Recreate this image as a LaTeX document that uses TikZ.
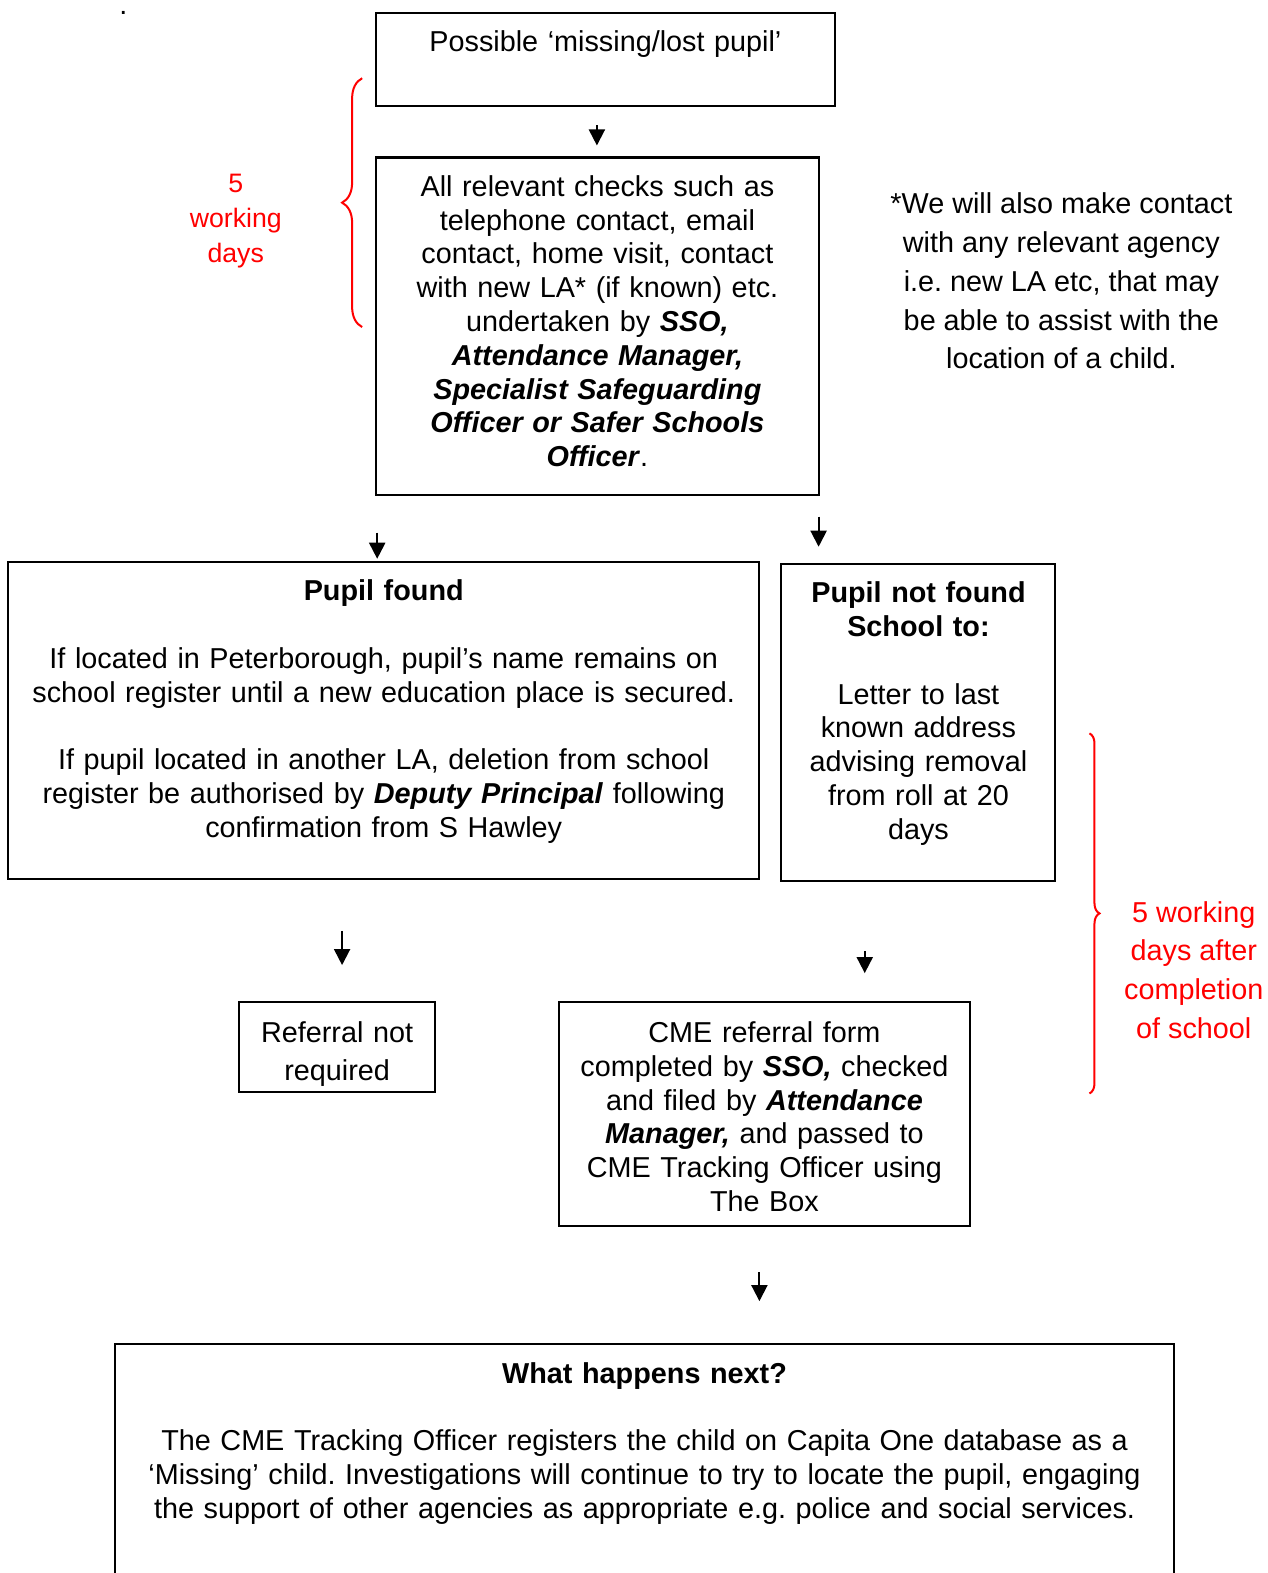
\documentclass[tikz,border=0pt]{standalone}
\usepackage{fontspec}
\setmainfont{Liberation Sans}
\frenchspacing
\usetikzlibrary{arrows.meta,positioning,decorations.pathreplacing}
\tikzset{block/.style={rectangle, draw, line width=1pt, inner sep=0pt}}
\tikzset{inside/.style={text width=#1, align=center, inner sep=0pt, font=\fontsize{14.35}{16.85}\selectfont}}
\tikzset{note/.style={align=center, inner sep=0pt, font=\fontsize{14.35}{19.35}\selectfont}}
\tikzset{redtext/.style={text=red, align=center, inner sep=0pt}}
\tikzset{redbrace/.style={draw=red, line width=1pt, decorate, decoration={brace, amplitude=#1, aspect=0.5}}}
\tikzset{line/.style={draw, line width=1pt, -{Triangle[width=8pt,length=8pt]}}}

\begin{document}
\begin{tikzpicture}[x=0.5pt,y=-0.5pt]
        \useasboundingbox (0,0) rectangle (1263,1568);
        \node[anchor=base, inner sep=0pt, font=\fontsize{14.35}{16.85}\selectfont] (dot) at (123,14) {.};

        % boxes
        \node[block, minimum width=228.5pt, minimum height=46.5pt] (lost) at (603.5,59.5) {};
        \node[block, minimum width=220.5pt, minimum height=168pt] (checks) at (595.5,325) {};
        \node[block, minimum width=374.5pt, minimum height=158pt] (found) at (382.5,718) {};
        \node[block, minimum width=136.5pt, minimum height=158pt] (notfound) at (915.5,720) {};
        \node[block, minimum width=98pt, minimum height=45pt] (referral) at (336,1044) {};
        \node[block, minimum width=205pt, minimum height=111.5pt] (cme) at (762,1110.5) {};
        \node[block, minimum width=527.5pt, minimum height=230pt] (next) at (642.5,1570) {};

        % texts in the boxes
        \node[inside=228.5pt, below=9.25pt of lost.north] (lost_t) {Possible ‘missing/lost pupil’};
        \node[inside=220.5pt, below=9.25pt of checks.north] (checks_t) {All relevant checks such as\\
            telephone contact, email\\ contact, home visit, contact\\ with new LA* (if known) etc.\\
            undertaken by \textbf{\textit{SSO,}}\\ \textbf{\textit{Attendance Manager,}}\\
            \textbf{\textit{Specialist Safeguarding}}\\ \textbf{\textit{Officer or Safer Schools}}\\
            \textbf{\textit{Officer}}.};
        \node[inside=374.5pt, below=9.25pt of found.north] (found_t) {\textbf{Pupil found}\\[16.85pt]
            If located in Peterborough, pupil’s name remains on\\
            school register until a new education place is secured.\\[16.85pt]
            If pupil located in another LA, deletion from school\\
            register be authorised by \textbf{\textit{Deputy Principal}} following\\
            confirmation from S Hawley};
        \node[inside=136.5pt, below=9.25pt of notfound.north] (notfound_t) {\textbf{Pupil not found}\\
            \textbf{School to:}\\[16.85pt] Letter to last\\ known address\\ advising removal\\
            from roll at 20\\ days};
        \node[inside=98pt, font=\fontsize{14.35}{19}\selectfont, below=10pt of referral.north] (referral_t) {Referral not\\ required};
        \node[inside=205pt, below=10pt of cme.north] (cme_t) {CME referral form\\
            completed by \textbf{\textit{SSO,}} checked\\ and filed by \textbf{\textit{Attendance}}\\
            \textbf{\textit{Manager,}} and passed to\\ CME Tracking Officer using\\ The Box};
        \node[inside=527.5pt, below=9.25pt of next.north] (next_t) {\textbf{What happens next?}\\[16.85pt]
            The CME Tracking Officer registers the child on Capita One database as a\\
            ‘Missing’ child. Investigations will continue to try to locate the pupil, engaging\\
            the support of other agencies as appropriate e.g. police and social services.};

        % side notes
        \node[note] (agency) at (1058,280) {*We will also make contact\\ with any relevant agency\\
            i.e. new LA etc, that may\\ be able to assist with the\\ location of a child.};
        \node[redtext, font=\fontsize{13.3}{17.5}\selectfont] (days) at (235,220) {5\\ working\\ days};
        \node[redtext, font=\fontsize{14.35}{19.35}\selectfont] (after) at (1190,967) {5 working\\ days after\\ completion\\ of school};
        \draw[redbrace=10pt] (361,326) -- (361,78);
        \draw[redbrace=5pt] (1086,731) -- (1086,1090);

        % arrows
        \coordinate (a1) at (595,125);  \coordinate (b1) at (595,145);
        \coordinate (a2) at (376,531);  \coordinate (b2) at (376,557);
        \coordinate (a3) at (816,515);  \coordinate (b3) at (816,545);
        \coordinate (a4) at (341,928);  \coordinate (b4) at (341,962);
        \coordinate (a5) at (862,948);  \coordinate (b5) at (862,970);
        \coordinate (a6) at (757,1268); \coordinate (b6) at (757,1297);
        \path[line] (a1) -- (b1);
        \path[line] (a2) -- (b2);
        \path[line] (a3) -- (b3);
        \path[line] (a4) -- (b4);
        \path[line] (a5) -- (b5);
        \path[line] (a6) -- (b6);

     \end{tikzpicture}
\end{document}
